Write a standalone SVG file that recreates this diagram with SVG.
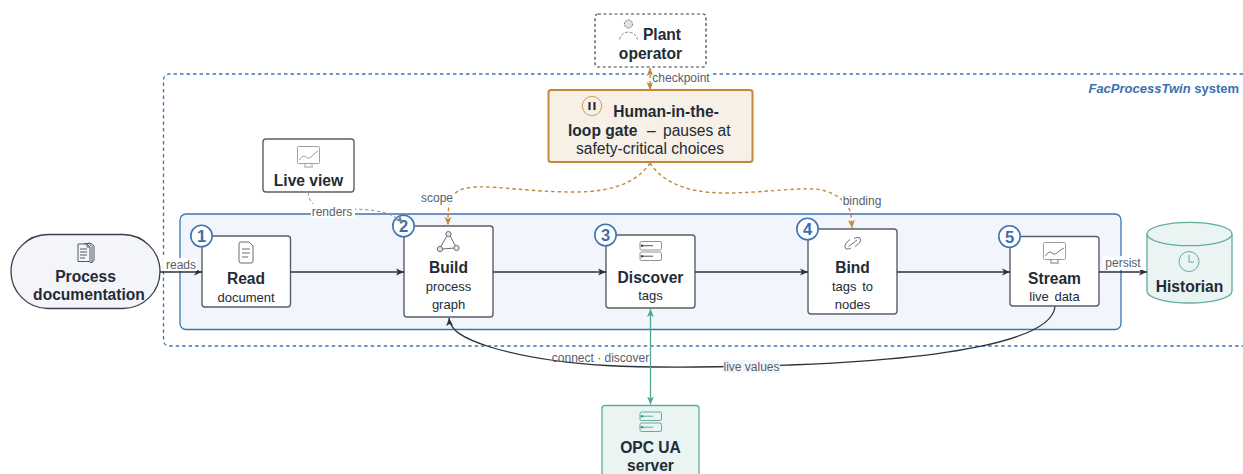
<svg xmlns="http://www.w3.org/2000/svg" width="1243" height="474" viewBox="0 0 1243 474">
<style>
text{font-family:"Liberation Sans",Arial,sans-serif;fill:#232b37;text-anchor:middle}
.t{font-size:15.6px;font-weight:700}
.s{font-size:13px}
.l{font-size:12px;fill:#565e6a}
.n{font-size:16.5px;font-weight:700;fill:#3c6fb0}
.node{fill:#fff;stroke:#5a5f66;stroke-width:1.4}
.badge{fill:#fff;stroke:#3f74b5;stroke-width:1.6}
.ic{fill:none;stroke:#9aa0a6;stroke-width:1}
.ig{fill:none;stroke:#63ad9c;stroke-width:1}
.d{fill:none;stroke:#2c333d;stroke-width:1.3}
.o{fill:none;stroke:#c2893a;stroke-width:1.4;stroke-dasharray:3.5 3}
.g{fill:none;stroke:#4ea893;stroke-width:1.3}
.lb{fill:#fff}
</style>
<defs>
<marker id="a" markerWidth="10" markerHeight="8" refX="8" refY="4" orient="auto-start-reverse" markerUnits="userSpaceOnUse"><path d="M0 0.500L8 4L0 7.500L2 4Z" fill="#2c333d"/></marker>
<marker id="ao" markerWidth="10" markerHeight="10" refX="8" refY="4" orient="auto-start-reverse" markerUnits="userSpaceOnUse"><path d="M0 0.500L8 4L0 7.500L2 4Z" fill="#c2893a"/></marker>
<marker id="ag" markerWidth="10" markerHeight="10" refX="8" refY="4" orient="auto-start-reverse" markerUnits="userSpaceOnUse"><path d="M0 0.500L8 4L0 7.500L2 4Z" fill="#4ea893"/></marker>
<marker id="ay" markerWidth="10" markerHeight="10" refX="8" refY="4" orient="auto" markerUnits="userSpaceOnUse"><path d="M0 0.500L8 4L0 7.500L2 4Z" fill="#7d838b"/></marker>
</defs>

<g id="system">
<path d="M1243 74H169a5.500 5.500 0 0 0-5.500 5.500V340.500a5.500 5.500 0 0 0 5.500 5.500H1243" fill="none" stroke="#3f74b5" stroke-width="1.300" stroke-dasharray="3.500 3"/>
<rect x="644" y="71" width="69" height="6" fill="#fff"/>
<text x="1239" y="93" style="text-anchor:end;font-size:13px;font-weight:700;fill:#3c6fb0"><tspan font-style="italic">FacProcessTwin</tspan> system</text>
</g>
<g id="pipeline"><rect x="180" y="214" width="941" height="115.500" rx="6" fill="#f2f5fb" stroke="#3f74b5" stroke-width="1.300"/></g>

<g id="process-documentation">
<rect x="11" y="234.500" width="149" height="74" rx="37" fill="#f3f5fa" stroke="#3a4049" stroke-width="1.300"/>
<path fill="none" stroke="#555b63" d="M78 244H87L90 247V261.500H78ZM87 244V247H90M80 249H87M80 252H87M80 255H87M80 258H85M84 243.500H89L92 246.500V262.500H90M88 243L91 243.500L94 246V260.500L92 262"/>
<text class="t" x="85.500" y="282">Process</text><text class="t" x="89" y="300">documentation</text>
</g>

<g id="read">
<rect class="node" x="202" y="236" width="88.500" height="71" rx="3"/>
<path fill="none" stroke="#666c74" d="M240 242H249L253 246V261Q253 263 251 263H241Q239 263 239 261V243ZM242 249H250M242 253H250M242 257H248"/>
<text class="t" x="246" y="284">Read</text><text class="s" x="246" y="302">document</text>
<circle class="badge" cx="201.500" cy="236" r="10.700"/><text class="n" x="201.500" y="242">1</text>
</g>

<g id="build">
<rect class="node" x="404" y="226" width="89" height="91" rx="3"/>
<path fill="none" stroke="#666c74" d="M448 234L440 248M449 234L456 247M442 249L455 248"/>
<circle cx="448.500" cy="234" r="2.600" fill="#e3e5e8" stroke="#666c74"/><circle cx="440" cy="249" r="2.600" fill="#e3e5e8" stroke="#666c74"/><circle cx="456.500" cy="248" r="2.600" fill="#e3e5e8" stroke="#666c74"/>
<text class="t" x="448.500" y="273">Build</text><text class="s" x="448.500" y="291">process</text><text class="s" x="448.500" y="309">graph</text>
<circle class="badge" cx="403.500" cy="226" r="10.700"/><text class="n" x="403.500" y="232">2</text>
</g>

<g id="discover">
<rect class="node" x="606" y="235" width="89" height="73" rx="3"/>
<g fill="none" stroke="#8d939a"><rect x="640" y="241.500" width="21.500" height="8.500" rx="1.500"/><rect x="640" y="252" width="21.500" height="8.500" rx="1.500"/><path d="M643 245.700H653M643 256.200H653" stroke="#555"/></g>
<circle cx="642" cy="245.700" r="1.200" fill="#444"/><circle cx="642" cy="256.200" r="1.200" fill="#444"/>
<text class="t" x="650.500" y="282.500">Discover</text><text class="s" x="650.500" y="300">tags</text>
<circle class="badge" cx="605.500" cy="235" r="10.700"/><text class="n" x="605.500" y="241">3</text>
</g>

<g id="bind">
<rect class="node" x="808" y="229" width="89" height="85" rx="3"/>
<path fill="none" stroke="#6f757c" d="M850 239.500L846 243Q844 246.500 845.500 248.500Q848 250 851 248M855 246.500L859.500 243Q861.500 239.500 860 238Q857 236.500 854 238.500M848.500 246.500L857 240"/>
<text class="t" x="852.500" y="273">Bind</text><text class="s" x="852.500" y="291" word-spacing="2">tags to</text><text class="s" x="852.500" y="309">nodes</text>
<circle class="badge" cx="807.500" cy="229" r="10.700"/><text class="n" x="807.500" y="235">4</text>
</g>

<g id="stream">
<rect class="node" x="1010" y="236.500" width="89" height="69.500" rx="3"/>
<g class="ic"><rect x="1043.500" y="242.500" width="22" height="17" rx="1"/><path d="M1051 259.500V262M1058 259.500V262M1050 263H1059M1045.500 256Q1049 250 1052 253T1059 251L1064 248" stroke="#777"/></g>
<text class="t" x="1054.500" y="284">Stream</text><text class="s" x="1054.500" y="301" word-spacing="2">live data</text>
<circle class="badge" cx="1009.500" cy="236.500" r="10.700"/><text class="n" x="1009.500" y="242.500">5</text>
</g>

<g id="live-view">
<rect class="node" x="263" y="139" width="91" height="53" rx="3"/>
<g class="ic"><rect x="297.500" y="146.500" width="22" height="17" rx="1"/><path d="M305 163.500V166M312 163.500V166M304 167H313M299.500 160Q303 154 306 157T313 155L318 151"/></g>
<text class="t" x="308.500" y="186">Live view</text>
</g>

<g id="plant-operator">
<rect x="595" y="14" width="111" height="53" rx="3" fill="#fff" stroke="#3a4049" stroke-width="1.200" stroke-dasharray="3 2.500"/>
<circle cx="628.500" cy="24" r="4" fill="#dfe1e4" stroke="#70767d" stroke-dasharray="2 1"/>
<path d="M619.500 39.500Q621 33 628.500 32Q636 33 637.500 39.500" fill="none" stroke="#666c74" stroke-width=".8" stroke-dasharray="3 1.500"/>
<text class="t" x="662" y="40">Plant</text><text class="t" x="650.500" y="59">operator</text>
</g>

<g id="gate">
<rect x="548.500" y="90" width="204" height="72" rx="2.500" fill="#f6f0e6" stroke="#c2893a" stroke-width="2"/>
<circle cx="592" cy="106" r="9.700" fill="none" stroke="#c2893a" stroke-width=".8"/>
<path d="M589.500 102V110M594.500 102V110" stroke="#333" stroke-width="2.200"/>
<text class="t" x="666" y="116.500">Human-in-the-</text>
<text class="t" x="568" y="135.500" style="text-anchor:start">loop gate</text>
<text x="647" y="135.500" style="text-anchor:start;font-size:15.600px">–</text>
<text x="663" y="135.500" style="text-anchor:start;font-size:15.600px">pauses at</text>
<text x="650" y="154" style="font-size:15.600px">safety-critical choices</text>
</g>

<g id="opc-ua-server">
<rect x="602" y="405.500" width="97" height="80" rx="3" fill="#eaf4f2" stroke="#63ad9c" stroke-width="1.300"/>
<g class="ig"><rect x="640" y="412" width="21.500" height="8.500" rx="1.500"/><rect x="640" y="423" width="21.500" height="8.500" rx="1.500"/><path d="M643 416.200H653M643 427.200H653"/></g>
<circle cx="642" cy="416.200" r="1.300" fill="#3c9a85"/><circle cx="642" cy="427.200" r="1.300" fill="#3c9a85"/>
<text class="t" x="650.500" y="453">OPC UA</text><text class="t" x="650.500" y="471">server</text>
</g>

<g id="historian">
<path d="M1147 234V291C1147 298 1166 303 1189.500 303S1232 298 1232 291V234" fill="#eaf4f2" stroke="#63ad9c" stroke-width="1.300"/>
<ellipse cx="1189.500" cy="234" rx="42.500" ry="11.700" fill="#eaf4f2" stroke="#63ad9c" stroke-width="1.300"/>
<circle cx="1189" cy="261.500" r="10" class="ig"/><path class="ig" d="M1189 255V262H1194"/>
<text class="t" x="1189.500" y="292">Historian</text>
</g>

<g id="connectors">
<path class="d" d="M160 272H202" marker-end="url(#a)"/>
<path class="d" d="M290.500 272H404" marker-end="url(#a)"/>
<path class="d" d="M493 272H606" marker-end="url(#a)"/>
<path class="d" d="M695 272H808" marker-end="url(#a)"/>
<path class="d" d="M897 272H1010" marker-end="url(#a)"/>
<path class="d" d="M1099 272H1147" marker-end="url(#a)"/>
<path d="M308 192C310 206 315 209 345 209C375 209 392 212 403 223" fill="none" stroke="#8a9097" stroke-width="1" stroke-dasharray="3.500 2.500" marker-end="url(#ay)"/>
<path class="o" d="M650 68V90" marker-start="url(#ao)" marker-end="url(#ao)"/>
<path class="o" d="M650 163C640 178 620 192 575 192C530 192 500 186 475 187C460 188 452 192 449 205C448 212 448 218 448 225" marker-end="url(#ao)"/>
<path class="o" d="M650 163C660 178 680 193 725 193C760 193 790 188 815 189C835 191 848 202 851 214L852 228" marker-end="url(#ao)"/>
<path class="d" d="M1055 306.500C1052 340 950 361 760 366C640 369 560 368 490 347C462 338 450 330 449 318" marker-end="url(#a)"/>
<path class="g" d="M650.500 309V404.500" marker-start="url(#ag)" marker-end="url(#ag)"/>
</g>

<g id="edge-labels">
<rect class="lb" x="163" y="258" width="34" height="13"/><text class="l" x="181" y="269">reads</text>
<rect class="lb" x="311" y="204" width="44" height="14"/><text class="l" x="332" y="216">renders</text>
<rect class="lb" x="420" y="190" width="34" height="14"/><text class="l" x="437" y="202">scope</text>
<rect class="lb" x="842" y="194" width="41" height="14"/><text class="l" x="862" y="205">binding</text>
<rect class="lb" x="652.500" y="71" width="58" height="14"/><text class="l" x="681" y="82">checkpoint</text>
<text class="l" x="600.500" y="361.500">connect · discover</text>
<rect x="723.500" y="360" width="56.500" height="13" fill="#f2f5fb"/><text class="l" x="751.500" y="370.500">live values</text>
<rect class="lb" x="1103" y="256" width="40" height="14"/><text class="l" x="1123" y="267">persist</text>
</g>
</svg>
